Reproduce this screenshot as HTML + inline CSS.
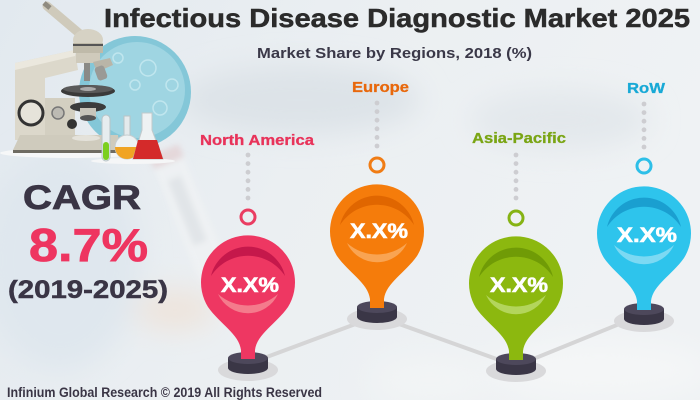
<!DOCTYPE html>
<html><head><meta charset="utf-8"><style>
html,body{margin:0;padding:0;width:700px;height:400px;overflow:hidden;background:#eaeff3}
svg{display:block}
text{font-family:"Liberation Sans",Arial,sans-serif;font-weight:bold}
</style></head><body>
<svg width="700" height="400" viewBox="0 0 700 400" xmlns="http://www.w3.org/2000/svg">
<defs>
<linearGradient id="bg" x1="0" y1="0" x2="1" y2="0.3">
<stop offset="0" stop-color="#e2e9ef"/><stop offset="0.5" stop-color="#ebeff2"/><stop offset="1" stop-color="#eff2f4"/>
</linearGradient>
<filter id="bl" x="-50%" y="-50%" width="200%" height="200%"><feGaussianBlur stdDeviation="14"/></filter>
<filter id="bl2" x="-50%" y="-50%" width="200%" height="200%"><feGaussianBlur stdDeviation="3"/></filter>
<g id="ped">
<ellipse cx="0" cy="88" rx="30" ry="11" fill="#d9d9db"/>
<path d="M-20,76 L-20,86 A20 6 0 0 0 20,86 L20,76 Z" fill="#3a3646"/>
<ellipse cx="0" cy="76" rx="20" ry="6" fill="#4d485b"/>
</g>
<path id="pin" d="M-40,25 A47 47 0 1 1 40,25 C28,42 9,52 7,68 L7,77 L-7,77 L-7,68 C-9,52 -28,42 -40,25 Z"/>
<path id="dark" d="M-37,-6 A38 38 0 0 1 37,-6 A44 44 0 0 0 -37,-6 Z"/>
<path id="light" d="M-30,12 A33 33 0 0 0 30,12 A45 45 0 0 1 -30,12 Z"/>
</defs>
<rect width="700" height="400" fill="url(#bg)"/>
<g filter="url(#bl)">
<ellipse cx="300" cy="100" rx="120" ry="35" fill="#dde3e8"/>
<ellipse cx="60" cy="260" rx="80" ry="110" fill="#dfe7ee"/>
<ellipse cx="175" cy="310" rx="40" ry="20" fill="#eee4dc"/>
<ellipse cx="560" cy="120" rx="90" ry="30" fill="#e3e8ec"/>
<ellipse cx="600" cy="370" rx="110" ry="30" fill="#f4f6f7"/>
<ellipse cx="430" cy="380" rx="60" ry="25" fill="#f2f4f5"/>
</g>
<g filter="url(#bl2)" opacity="0.55">
<g transform="translate(190,215) rotate(-22)">
<rect x="-16" y="-70" width="32" height="140" rx="12" fill="#f3f4f5"/>
<rect x="-16" y="-70" width="32" height="14" fill="#e2c6c8"/>
<rect x="-8" y="-40" width="14" height="70" fill="#dcdfe2"/>
</g>
</g>
<circle cx="135" cy="92" r="56" fill="#84c7d8"/>
<circle cx="137" cy="90" r="48" fill="#9fd5e2"/>
<g fill="none" stroke="#c9ebf2" stroke-width="1.5" opacity="0.8">
<circle cx="148" cy="68" r="8"/><circle cx="172" cy="85" r="6"/><circle cx="118" cy="58" r="5"/>
<circle cx="160" cy="108" r="7"/><circle cx="135" cy="85" r="5"/>
</g>
<ellipse cx="70" cy="153" rx="70" ry="5" fill="#f6f7f8"/>
<line x1="47" y1="6" x2="80" y2="34" stroke="#cfcabb" stroke-width="9" stroke-linecap="round"/>
<line x1="44" y1="3" x2="50" y2="8" stroke="#8f8b80" stroke-width="5"/>
<path d="M15,63 L75,50 L78,70 L45,78 L45,140 L15,140 Z" fill="#dcd8cb"/>
<path d="M15,63 L75,50 L75,56 L15,70 Z" fill="#ebe8de"/>
<ellipse cx="88" cy="40" rx="15" ry="11" fill="#d6d2c4"/>
<rect x="73" y="43" width="30" height="10" fill="#bfbaa9"/>
<rect x="73" y="44" width="30" height="2" fill="#555"/>
<rect x="76" y="53" width="24" height="10" fill="#cfcabb"/>
<rect x="84" y="63" width="6" height="18" fill="#8a8a86"/>
<path d="M93,62 L110,58 L113,65 L97,72 Z" fill="#b9b5a8"/>
<rect x="96" y="66" width="10" height="14" rx="3" fill="#9a9a96" transform="rotate(-20 101 73)"/>
<ellipse cx="88" cy="91" rx="27" ry="6" fill="#3a3a3a"/>
<ellipse cx="88" cy="89" rx="25" ry="4" fill="#5a5a5a"/>
<ellipse cx="88" cy="89" rx="8" ry="2" fill="#aaa"/>
<rect x="45" y="98" width="30" height="40" fill="#d3cfc1"/>
<ellipse cx="88" cy="107" rx="18" ry="5" fill="#3c3c3c"/>
<rect x="80" y="108" width="16" height="10" fill="#c8c5ba"/>
<ellipse cx="88" cy="118" rx="8" ry="3" fill="#555"/>
<circle cx="31" cy="113" r="12" fill="#e6e3da" stroke="#333" stroke-width="3"/>
<circle cx="58" cy="113" r="6" fill="#bcbab3" stroke="#777" stroke-width="1.5"/>
<circle cx="72" cy="124" r="5" fill="#333"/>
<path d="M13,150 L20,135 L118,135 L120,150 Z" fill="#cfcbbd"/>
<path d="M13,150 L120,150 L120,153 L13,153 Z" fill="#6e6b62"/>
<ellipse cx="86" cy="138" rx="14" ry="3" fill="#e4e2da"/>
<ellipse cx="133" cy="161" rx="42" ry="3" fill="#f5f6f7"/>
<rect x="102" y="115" width="8" height="46" rx="4" fill="#e6edef" stroke="#b8c4c6" stroke-width="1"/>
<rect x="103" y="142" width="6" height="18" rx="3" fill="#7ccf1f"/>
<rect x="124" y="116" width="6" height="22" fill="#e4eaec" stroke="#b8c4c6" stroke-width="1"/>
<circle cx="127" cy="147" r="12" fill="#eef2f3" stroke="#c6cdcf" stroke-width="1"/>
<path d="M115,147 A12 12 0 0 0 139,147 Z" fill="#f0a424"/>
<path d="M142,113 L152,113 L152,130 L163,159 L133,159 L142,130 Z" fill="#eef2f3" stroke="#c2c9cb" stroke-width="1"/>
<path d="M138,140 L157,140 L163,159 L133,159 Z" fill="#d42a2a"/>
<polyline points="248,364 377,316 516,366 644,314" fill="none" stroke="#d5d5d6" stroke-width="4"/>
<text x="104" y="27" font-size="26" fill="#2b2b2b" stroke="#2b2b2b" stroke-width="0.5" textLength="586" lengthAdjust="spacingAndGlyphs">Infectious Disease Diagnostic Market 2025</text>
<text x="257" y="58" font-size="15" fill="#3a3848" textLength="275" lengthAdjust="spacingAndGlyphs">Market Share by Regions, 2018 (%)</text>
<text x="200" y="145" font-size="15" fill="#e8335a" stroke="#e8335a" stroke-width="0.3" textLength="114" lengthAdjust="spacingAndGlyphs">North America</text>
<text x="352" y="92" font-size="15" fill="#e8680c" stroke="#e8680c" stroke-width="0.3" textLength="57" lengthAdjust="spacingAndGlyphs">Europe</text>
<text x="472" y="143" font-size="15" fill="#7aa514" stroke="#7aa514" stroke-width="0.3" textLength="94" lengthAdjust="spacingAndGlyphs">Asia-Pacific</text>
<text x="627" y="93" font-size="15" fill="#18a9d6" stroke="#18a9d6" stroke-width="0.3" textLength="38" lengthAdjust="spacingAndGlyphs">RoW</text>
<g fill="#cdcdd1">
<circle cx="248" cy="155" r="2.4"/><circle cx="248" cy="163.6" r="2.4"/><circle cx="248" cy="172.2" r="2.4"/><circle cx="248" cy="180.8" r="2.4"/><circle cx="248" cy="189.4" r="2.4"/><circle cx="248" cy="198" r="2.4"/>
<circle cx="377" cy="103" r="2.4"/><circle cx="377" cy="111.6" r="2.4"/><circle cx="377" cy="120.2" r="2.4"/><circle cx="377" cy="128.8" r="2.4"/><circle cx="377" cy="137.4" r="2.4"/><circle cx="377" cy="146" r="2.4"/>
<circle cx="516" cy="155" r="2.4"/><circle cx="516" cy="163.6" r="2.4"/><circle cx="516" cy="172.2" r="2.4"/><circle cx="516" cy="180.8" r="2.4"/><circle cx="516" cy="189.4" r="2.4"/><circle cx="516" cy="198" r="2.4"/>
<circle cx="644" cy="104" r="2.4"/><circle cx="644" cy="112.6" r="2.4"/><circle cx="644" cy="121.2" r="2.4"/><circle cx="644" cy="129.8" r="2.4"/><circle cx="644" cy="138.4" r="2.4"/><circle cx="644" cy="147" r="2.4"/>
</g>
<circle cx="248" cy="217" r="7" fill="none" stroke="#ea3d62" stroke-width="3"/>
<circle cx="377" cy="165" r="7" fill="none" stroke="#f07c14" stroke-width="3"/>
<circle cx="516" cy="218" r="7" fill="none" stroke="#86b314" stroke-width="3"/>
<circle cx="644" cy="166" r="7" fill="none" stroke="#2dbfe8" stroke-width="3"/>
<g transform="translate(248,282)">
<use href="#ped"/><use href="#pin" fill="#ee3762"/><use href="#dark" fill="#c5184b"/><use href="#light" fill="#f47b8c"/>
<text x="2" y="10" font-size="21" fill="#fff" stroke="#fff" stroke-width="0.6" text-anchor="middle" textLength="58" lengthAdjust="spacingAndGlyphs">X.X%</text>
</g>
<g transform="translate(377,231)">
<use href="#ped"/><use href="#pin" fill="#f57c0b"/><use href="#dark" fill="#e06600"/><use href="#light" fill="#f9a452"/>
<text x="2" y="7" font-size="21" fill="#fff" stroke="#fff" stroke-width="0.6" text-anchor="middle" textLength="58" lengthAdjust="spacingAndGlyphs">X.X%</text>
</g>
<g transform="translate(516,283)">
<use href="#ped"/><use href="#pin" fill="#8cb80f"/><use href="#dark" fill="#709b06"/><use href="#light" fill="#b3d55c"/>
<text x="3" y="9" font-size="21" fill="#fff" stroke="#fff" stroke-width="0.6" text-anchor="middle" textLength="58" lengthAdjust="spacingAndGlyphs">X.X%</text>
</g>
<g transform="translate(644,233)">
<use href="#ped"/><use href="#pin" fill="#2ec4ec"/><use href="#dark" fill="#1a9fd0"/><use href="#light" fill="#7cd9f3"/>
<text x="3" y="9" font-size="21" fill="#fff" stroke="#fff" stroke-width="0.6" text-anchor="middle" textLength="60" lengthAdjust="spacingAndGlyphs">X.X%</text>
</g>
<text x="23" y="209" font-size="34" fill="#3a3545" stroke="#3a3545" stroke-width="0.8" textLength="118" lengthAdjust="spacingAndGlyphs">CAGR</text>
<text x="29" y="261" font-size="46" fill="#ee3560" stroke="#ee3560" stroke-width="0.8" textLength="119" lengthAdjust="spacingAndGlyphs">8.7%</text>
<text x="8" y="298" font-size="25" fill="#3a3545" stroke="#3a3545" stroke-width="0.5" textLength="160" lengthAdjust="spacingAndGlyphs">(2019-2025)</text>
<text x="7" y="397" font-size="13.5" fill="#3a3545" textLength="315" lengthAdjust="spacingAndGlyphs">Infinium Global Research © 2019 All Rights Reserved</text>
</svg>
</body></html>
